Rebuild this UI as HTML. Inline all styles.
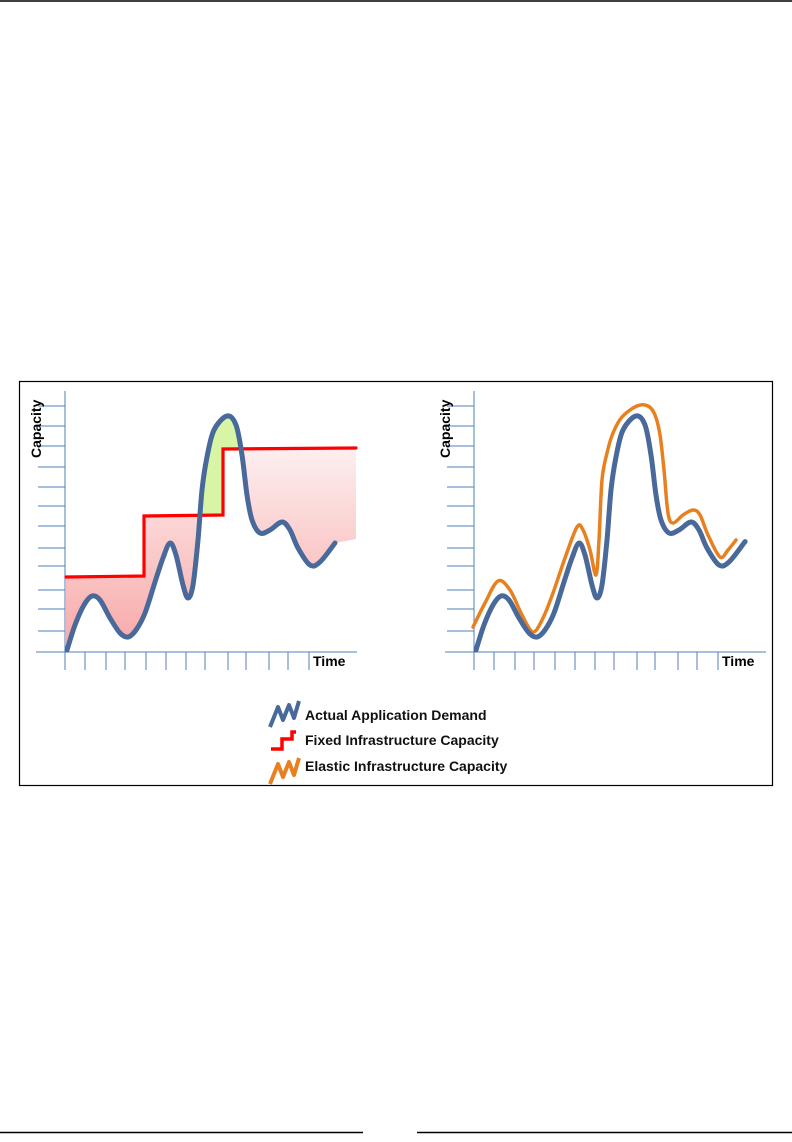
<!DOCTYPE html>
<html><head><meta charset="utf-8"><style>
html,body{margin:0;padding:0;background:#fff;}
body{width:792px;height:1142px;position:relative;overflow:hidden;}
svg{position:absolute;left:0;top:0;}
text{font-family:"Liberation Sans",sans-serif;}
</style></head><body>
<svg id="s" width="792" height="1142" viewBox="0 0 792 1142">
<defs>
<linearGradient id="pg" gradientUnits="userSpaceOnUse" x1="0" y1="450" x2="0" y2="650">
<stop offset="0" stop-color="#fdeeee"/><stop offset="1" stop-color="#f8a8a8"/></linearGradient>
</defs>
<line x1="0" y1="1" x2="792" y2="1" stroke="#000" stroke-width="1.5"/>
<line x1="0" y1="1132.5" x2="363" y2="1132.5" stroke="#000" stroke-width="1.5"/>
<line x1="417" y1="1132.5" x2="792" y2="1132.5" stroke="#000" stroke-width="1.5"/>
<rect x="19.5" y="381.5" width="753" height="404" fill="none" stroke="#000" stroke-width="1.2"/>
<g id="fills"></g>
<g id="axes" stroke="#4f81bd" stroke-width="1"></g>
<g id="curves" fill="none" stroke-linecap="round" stroke-linejoin="round"></g>
<text x="0" y="0" font-size="14" font-weight="bold" transform="translate(41,458) rotate(-90)">Capacity</text>
<text x="0" y="0" font-size="14" font-weight="bold" transform="translate(450,458) rotate(-90)">Capacity</text>
<text x="313" y="666" font-size="14" font-weight="bold">Time</text>
<text x="722" y="666" font-size="14" font-weight="bold">Time</text>
<path d="M270,727 L278,707 L283,720 L289,705 L294,718 L299,701" fill="none" stroke="#48699a" stroke-width="4" stroke-linejoin="round"/>
<path d="M271,749 L282,749 L282,739 L292,739 L292,732 L296,732" fill="none" stroke="#ff0000" stroke-width="3.5"/>
<path d="M270,784 L278,764 L283,777 L289,762 L294,775 L299,758" fill="none" stroke="#e8801f" stroke-width="4" stroke-linejoin="round"/>
<g font-size="14" font-weight="bold" fill="#111">
<text x="305" y="720">Actual Application Demand</text>
<text x="305" y="745">Fixed Infrastructure Capacity</text>
<text x="305" y="771">Elastic Infrastructure Capacity</text>
</g>
</svg>
<script>
var NS="http://www.w3.org/2000/svg";
function el(n,a,p){var e=document.createElementNS(NS,n);for(var k in a)e.setAttribute(k,a[k]);p.appendChild(e);return e;}
function spline(p){var d="M"+p[0][0]+","+p[0][1];for(var i=0;i<p.length-1;i++){var p0=p[i-1]||p[i],p1=p[i],p2=p[i+1],p3=p[i+2]||p2;
d+=" C"+(p1[0]+(p2[0]-p0[0])/6)+","+(p1[1]+(p2[1]-p0[1])/6)+" "+(p2[0]-(p3[0]-p1[0])/6)+","+(p2[1]-(p3[1]-p1[1])/6)+" "+p2[0]+","+p2[1];}return d;}
var D=[[67,650],[75,625],[84,605],[92,596],[100,600],[110,618],[120,633],[128,637],[136,630],[145,613],[155,582],[163,558],[170,543],[176,555],[183,585],[188,598],[193,585],[198,540],[202,490],[207,457],[214,430],[227,416],[236,425],[242,455],[247,495],[252,520],[260,533],[270,530],[282,522],[290,530],[298,548],[310,565],[320,562],[335,543]];
var axes=document.getElementById("axes"),fills=document.getElementById("fills"),cur=document.getElementById("curves");
var yt=[406,426,446,467,487,506,526,548,566,590,609,631];
var xt=[65,85,106,125,146,166,186,205,228,246,269,288,309];
[0,409].forEach(function(o){
 el("line",{x1:65+o,y1:391,x2:65+o,y2:670},axes);
 el("line",{x1:36+o,y1:652,x2:357+o,y2:652},axes);
 yt.forEach(function(y){el("line",{x1:38+o,y1:y,x2:65+o,y2:y},axes);});
 xt.forEach(function(x){el("line",{x1:x+o,y1:652,x2:x+o,y2:670},axes);});
});
var dc=spline(D);
var red="M66,577 L144,576 L144,516 L223,515 L223,449 L356,448";
var cp1=el("clipPath",{id:"belowRed"},fills);el("path",{d:red+" L356,660 L66,660 Z"},cp1);
var cp2=el("clipPath",{id:"aboveRed"},fills);el("path",{d:red+" L356,380 L66,380 Z"},cp2);
el("path",{d:dc+" L356,539 L356,380 L66,380 L66,650 Z",fill:"url(#pg)","clip-path":"url(#belowRed)"},fills);
el("path",{d:dc+" L356,539 L356,660 L66,660 Z",fill:"#d8f5a6","clip-path":"url(#aboveRed)"},fills);
el("path",{d:red,stroke:"#ff0000","stroke-width":3.2,fill:"none","stroke-linejoin":"miter"},cur);
el("path",{d:dc,stroke:"#48699a","stroke-width":5},cur);
var O=[[473,627],[485,603],[498,581],[510,590],[522,615],[533,632],[543,618],[553,593],[565,558],[577,527],[583,530],[590,550],[596,575],[599,540],[602,480],[607,453],[613,433],[622,417],[637,406],[648,406],[655,415],[660,435],[664,470],[668,513],[673,523],[683,515],[693,510],[700,515],[708,535],[720,557],[728,550],[736,540]];
el("path",{d:spline(O),stroke:"#e8801f","stroke-width":3.5},cur);
var DR=D.map(function(p){return[p[0]+409,p[1]]});DR.push([744,543]);
el("path",{d:spline(DR),stroke:"#48699a","stroke-width":5},cur);
</script>
</body></html>
